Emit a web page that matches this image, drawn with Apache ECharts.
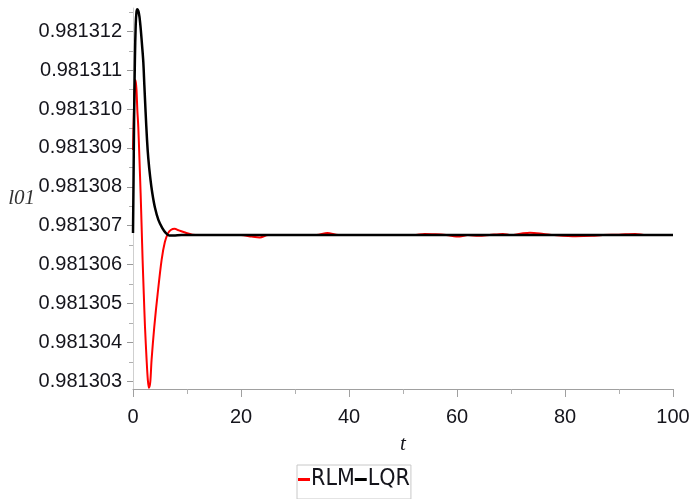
<!DOCTYPE html>
<html>
<head>
<meta charset="utf-8">
<title>l01 response</title>
<script src="https://cdn.jsdelivr.net/npm/echarts@6/dist/echarts.min.js"></script>
<style>
  html, body { margin: 0; padding: 0; background: #fff; }
  #chart { width: 690px; height: 499px; }
</style>
</head>
<body>
<div id="chart"></div>
<script>
// RLM controller response (red)
const rlmT = [0, 0.15, 0.3, 0.48, 0.65, 0.8, 0.98, 1.2, 1.41, 1.6, 1.78, 2.0, 2.22, 2.52, 2.75, 2.96, 3.2, 3.44, 3.94, 4.56,
  5.3, 5.9, 6.5, 7.0, 7.7, 8.5, 9.5, 11,
  14, 20, 22, 23.5, 25, 34, 36, 38, 52, 54, 56, 58, 60.5, 62, 64, 66, 68.5, 70, 72, 73.5, 76, 78, 82, 85, 87, 90, 93, 95, 100];
const rlmV = [0.98130895, 0.98130985, 0.98131049, 0.98131075, 0.98131049, 0.98130998, 0.98130954, 0.98130869, 0.98130784,
  0.98130697, 0.98130612, 0.98130524, 0.9813044, 0.98130355, 0.98130303, 0.98130283, 0.98130298, 0.98130355, 0.9813044,
  0.98130524, 0.98130612, 0.98130658, 0.98130681, 0.98130689, 0.98130692, 0.98130688, 0.98130683, 0.98130677,
  0.98130676, 0.98130676, 0.98130672, 0.9813067, 0.98130676, 0.98130676, 0.98130681, 0.98130676, 0.98130676, 0.98130679,
  0.98130678, 0.98130676, 0.98130672, 0.98130676, 0.98130674, 0.98130676, 0.98130679, 0.98130676, 0.9813068, 0.98130682,
  0.98130679, 0.98130676, 0.98130673, 0.98130674, 0.98130676, 0.98130677, 0.98130679, 0.98130676, 0.98130676];

// LQR controller response (black)
const lqrT = [0, 0.1, 0.2, 0.35, 0.5, 0.65, 0.8, 1.0, 1.2, 1.45, 1.7, 1.91, 2.1, 2.33, 2.6, 2.83, 3.2, 3.57, 4.07, 4.7,
  5.43, 6.1, 6.7, 7.5, 9, 12, 100];
const lqrV = [0.98130681, 0.98130818, 0.98130972, 0.98131126, 0.98131216, 0.9813125, 0.98131257, 0.98131252, 0.98131237,
  0.98131203, 0.9813116, 0.98131121, 0.98131062, 0.98130993, 0.9813092, 0.98130874, 0.98130823, 0.98130784, 0.98130746,
  0.98130715, 0.98130694, 0.98130681, 0.98130675, 0.98130675, 0.98130676, 0.98130676, 0.98130676];

// axis ranges and ticks
const yMin = 0.9813028;
const yMax = 0.9813126;
const yMajor = [0.981303, 0.981304, 0.981305, 0.981306, 0.981307, 0.981308, 0.981309, 0.98131, 0.981311, 0.981312];
const yMinor = [0.9813035, 0.9813045, 0.9813055, 0.9813065, 0.9813075, 0.9813085, 0.9813095, 0.9813105, 0.9813115, 0.9813125];
const xMin = 0, xMax = 100, xStep = 20;

const pairs = (ts, vs) => ts.map((t, i) => [t, vs[i]]);
const labelFont = "'Liberation Sans', Arial, sans-serif";
const textColor = '#15151c';

const chart = echarts.init(document.getElementById('chart'), null, { renderer: 'canvas' });
chart.setOption({
  animation: false,
  backgroundColor: '#ffffff',
  grid: { left: 133, right: 17, top: 8, bottom: 110, containLabel: false, outerBoundsMode: 'none' },
  legend: {
    left: 297, top: 465,
    orient: 'horizontal',
    icon: 'rect', itemWidth: 12, itemHeight: 3, itemGap: 0,
    padding: [3, 1, 8, 1],
    borderColor: '#c8c8c8', borderWidth: 1,
    textStyle: { fontFamily: "'Liberation Sans Narrow', 'DejaVu Sans Condensed', 'Liberation Sans', sans-serif", fontSize: 23, color: textColor, padding: [0, -2, 0, -4] },
    data: ['RLM', 'LQR']
  },
  xAxis: {
    type: 'value', min: xMin, max: xMax, interval: xStep,
    name: 't', nameLocation: 'middle', nameGap: 45,
    nameTextStyle: { fontFamily: "'Liberation Serif', 'DejaVu Serif', serif", fontStyle: 'italic', fontSize: 21, color: textColor },
    axisLine: { show: true, lineStyle: { color: '#a0a0a0', width: 1 } },
    axisTick: { show: true, length: 8, lineStyle: { color: '#a0a0a0' } },
    minorTick: { show: true, splitNumber: 2, length: 5, lineStyle: { color: '#b0b0b0' } },
    axisLabel: { margin: 18, fontFamily: labelFont, fontSize: 20, color: textColor },
    splitLine: { show: false }
  },
  yAxis: [{
    type: 'value', min: yMin, max: yMax, position: 'left',
    name: 'l01', nameLocation: 'middle', nameRotate: 0, nameGap: 98, nameMoveOverlap: false,
    nameTextStyle: { fontFamily: "'Liberation Serif', 'DejaVu Serif', serif", fontStyle: 'italic', fontSize: 21, color: '#333' },
    axisLine: { show: true, lineStyle: { color: '#cfcfcf', width: 1 } },
    axisTick: { show: true, length: 6, customValues: yMajor, lineStyle: { color: '#9a9a9a' } },
    axisLabel: { margin: 11, customValues: yMajor, fontFamily: labelFont, fontSize: 20, color: textColor,
      formatter: v => v.toFixed(6) },
    splitLine: { show: false }
  }, {
    type: 'value', min: yMin, max: yMax, position: 'left',
    axisLine: { show: false },
    axisTick: { show: true, length: 4, customValues: yMinor, lineStyle: { color: '#b0b0b0' } },
    axisLabel: { show: false },
    splitLine: { show: false }
  }],
  series: [{
    name: 'RLM', type: 'line', yAxisIndex: 0,
    data: pairs(rlmT, rlmV),
    smooth: 0.3, showSymbol: false, symbol: 'none',
    lineStyle: { color: '#ff0000', width: 2 }, itemStyle: { color: '#ff0000' }, z: 2
  }, {
    name: 'LQR', type: 'line', yAxisIndex: 0,
    data: pairs(lqrT, lqrV),
    smooth: 0.3, showSymbol: false, symbol: 'none',
    lineStyle: { color: '#000000', width: 2.5 }, itemStyle: { color: '#000000' }, z: 3
  }]
});
</script>
</body>
</html>
